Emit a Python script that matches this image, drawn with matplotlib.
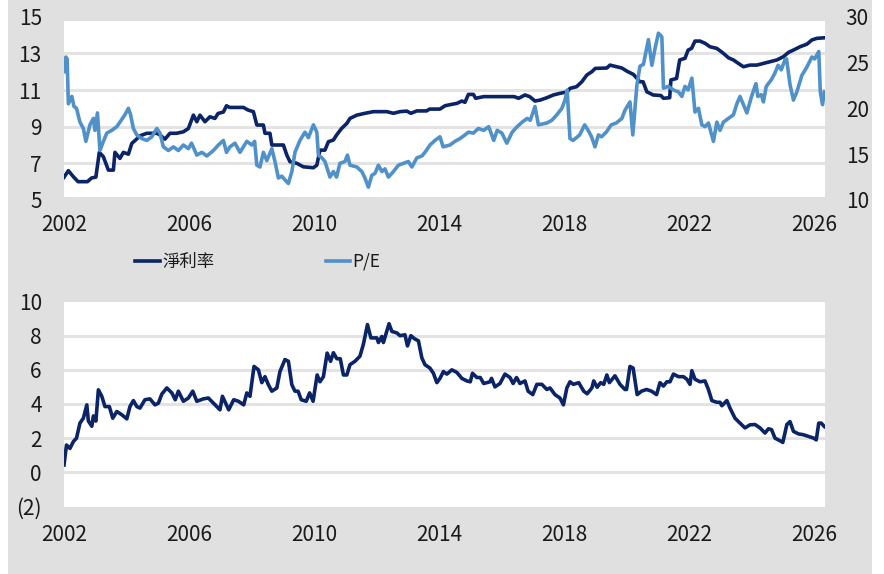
import matplotlib
matplotlib.use("Agg")
import matplotlib.pyplot as plt
from matplotlib.patches import Rectangle
from matplotlib.font_manager import FontProperties

plt.rcParams['font.family'] = ['Noto Sans CJK TC', 'DejaVu Sans']

# ---------------- data ----------------
margin_years = [2002.0, 2002.14, 2002.3, 2002.45, 2002.75, 2002.88, 2003.02, 2003.13, 2003.26, 2003.42,
                2003.58, 2003.63, 2003.79, 2003.9, 2004.06, 2004.17, 2004.29, 2004.43, 2004.65, 2004.97,
                2005.07, 2005.23, 2005.39, 2005.6, 2005.82, 2005.98, 2006.14, 2006.25, 2006.35, 2006.51,
                2006.67, 2006.83, 2006.93, 2007.1, 2007.2, 2007.3, 2007.74, 2007.9, 2008.06, 2008.17,
                2008.38, 2008.43, 2008.59, 2008.65, 2009.02, 2009.13, 2009.23, 2009.45, 2009.66, 2009.98,
                2010.09, 2010.19, 2010.35, 2010.46, 2010.62, 2010.72, 2010.88, 2011.05, 2011.15, 2011.37,
                2011.63, 2011.9, 2012.33, 2012.54, 2012.75, 2012.97, 2013.1, 2013.29, 2013.6, 2013.7,
                2014.03, 2014.19, 2014.35, 2014.57, 2014.73, 2014.83, 2014.94, 2015.1, 2015.17, 2015.43,
                2016.4, 2016.55, 2016.75, 2016.9, 2017.07, 2017.23, 2017.45, 2017.66, 2017.87, 2018.1,
                2018.19, 2018.4, 2018.57, 2018.73, 2018.89, 2019.0, 2019.37, 2019.47, 2019.69, 2019.85,
                2020.01, 2020.22, 2020.43, 2020.53, 2020.65, 2020.75, 2020.85, 2021.1, 2021.18, 2021.38,
                2021.42, 2021.6, 2021.7, 2021.87, 2021.97, 2022.08, 2022.19, 2022.35, 2022.51, 2022.67,
                2022.89, 2023.1, 2023.26, 2023.42, 2023.58, 2023.74, 2023.95, 2024.17, 2024.38, 2024.59,
                2024.81, 2025.02, 2025.18, 2025.34, 2025.55, 2025.77, 2025.93, 2026.09, 2026.33]
margin_values = [6.24, 6.6, 6.27, 6.0, 6.0, 6.2, 6.25, 7.6, 7.36, 6.63,
                 6.63, 7.6, 7.27, 7.6, 7.5, 8.09, 8.27, 8.5, 8.64, 8.64,
                 8.55, 8.32, 8.64, 8.64, 8.72, 8.9, 9.63, 9.27, 9.63, 9.27,
                 9.54, 9.45, 9.72, 9.8, 10.14, 10.05, 10.05, 9.9, 9.82, 9.09,
                 9.09, 8.64, 8.64, 8.0, 8.0, 7.45, 7.09, 7.0, 6.81, 6.76,
                 6.9, 7.72, 7.72, 8.18, 8.27, 8.54, 8.9, 9.18, 9.45, 9.63,
                 9.73, 9.82, 9.82, 9.73, 9.82, 9.85, 9.73, 9.86, 9.86, 9.96,
                 9.96, 10.14, 10.2, 10.27, 10.4, 10.33, 10.76, 10.76, 10.55, 10.64,
                 10.64, 10.55, 10.73, 10.64, 10.4, 10.45, 10.58, 10.73, 10.82, 10.9,
                 11.09, 11.18, 11.45, 11.82, 12.0, 12.18, 12.2, 12.36, 12.27, 12.2,
                 12.03, 11.85, 11.45, 11.45, 10.9, 10.82, 10.73, 10.7, 10.55, 10.58,
                 11.55, 11.63, 12.64, 12.73, 13.18, 13.27, 13.67, 13.67, 13.55, 13.36,
                 13.27, 13.0, 12.76, 12.64, 12.45, 12.27, 12.36, 12.36, 12.45, 12.54,
                 12.64, 12.82, 13.05, 13.18, 13.36, 13.5, 13.73, 13.82, 13.85]

pe_years = [2002.0, 2002.06, 2002.1, 2002.14, 2002.25, 2002.32, 2002.4, 2002.51, 2002.62, 2002.7,
            2002.83, 2002.94, 2002.99, 2003.07, 2003.15, 2003.26, 2003.37, 2003.53, 2003.69, 2003.79,
            2003.95, 2004.06, 2004.13, 2004.22, 2004.33, 2004.49, 2004.65, 2004.81, 2004.97, 2005.07,
            2005.18, 2005.34, 2005.5, 2005.66, 2005.82, 2005.98, 2006.08, 2006.25, 2006.41, 2006.57,
            2006.78, 2006.94, 2007.1, 2007.2, 2007.31, 2007.47, 2007.63, 2007.85, 2008.01, 2008.1,
            2008.17, 2008.27, 2008.38, 2008.49, 2008.65, 2008.75, 2008.86, 2008.97, 2009.07, 2009.18,
            2009.29, 2009.39, 2009.55, 2009.71, 2009.82, 2009.98, 2010.09, 2010.14, 2010.25, 2010.35,
            2010.51, 2010.62, 2010.72, 2010.83, 2010.99, 2011.07, 2011.15, 2011.37, 2011.53, 2011.63,
            2011.74, 2011.85, 2011.95, 2012.06, 2012.17, 2012.27, 2012.38, 2012.54, 2012.7, 2012.86,
            2013.02, 2013.13, 2013.29, 2013.45, 2013.55, 2013.71, 2013.87, 2014.03, 2014.13, 2014.35,
            2014.51, 2014.67, 2014.83, 2014.94, 2015.1, 2015.26, 2015.43, 2015.59, 2015.75, 2015.86,
            2016.01, 2016.17, 2016.34, 2016.5, 2016.66, 2016.82, 2016.92, 2017.07, 2017.18, 2017.45,
            2017.61, 2017.77, 2017.93, 2018.03, 2018.1, 2018.19, 2018.29, 2018.5, 2018.66, 2018.77,
            2018.88, 2018.99, 2019.1, 2019.2, 2019.35, 2019.51, 2019.67, 2019.85, 2019.95, 2020.11,
            2020.2, 2020.33, 2020.43, 2020.54, 2020.7, 2020.81, 2020.91, 2021.02, 2021.13, 2021.18,
            2021.34, 2021.5, 2021.66, 2021.77, 2021.87, 2021.97, 2022.09, 2022.19, 2022.3, 2022.41,
            2022.51, 2022.62, 2022.78, 2022.89, 2022.99, 2023.1, 2023.26, 2023.42, 2023.53, 2023.63,
            2023.74, 2023.85, 2024.0, 2024.14, 2024.2, 2024.31, 2024.38, 2024.47, 2024.63, 2024.74,
            2024.85, 2024.95, 2025.07, 2025.12, 2025.23, 2025.34, 2025.45, 2025.61, 2025.77, 2025.93,
            2026.02, 2026.15, 2026.2, 2026.27, 2026.33]
pe_values = [24.0, 25.6, 25.4, 20.5, 21.3, 20.2, 20.0, 18.5, 17.8, 16.4,
             18.2, 18.9, 17.6, 19.5, 15.4, 16.4, 17.3, 17.6, 18.0, 18.5,
             19.3, 20.0, 19.3, 17.8, 17.1, 16.7, 16.5, 16.9, 17.8, 17.3,
             15.8, 15.4, 15.8, 15.4, 16.0, 15.6, 16.2, 14.9, 15.2, 14.8,
             15.4, 16.0, 16.5, 15.2, 15.8, 16.2, 15.2, 16.4, 16.0, 16.4,
             13.8, 13.6, 15.2, 14.3, 15.6, 14.2, 12.4, 12.6, 12.2, 11.8,
             13.1, 15.2, 16.5, 17.4, 16.8, 18.2, 17.4, 14.9, 14.6, 14.2,
             12.5, 13.1, 12.5, 14.0, 14.2, 14.9, 13.8, 13.6, 13.1, 12.4,
             11.4, 12.7, 12.9, 13.8, 13.1, 13.4, 12.5, 13.1, 13.8, 14.0,
             14.2, 13.6, 14.6, 14.8, 15.2, 16.0, 16.5, 16.9, 15.8, 16.0,
             16.4, 16.7, 17.1, 17.4, 17.3, 17.8, 17.6, 18.0, 16.5, 17.6,
             17.3, 16.2, 17.4, 18.0, 18.5, 18.9, 18.7, 20.2, 18.2, 18.4,
             18.7, 19.3, 20.0, 20.9, 22.0, 16.7, 16.5, 17.1, 18.2, 17.6,
             16.9, 15.8, 17.1, 16.9, 17.4, 18.2, 18.4, 18.9, 19.8, 20.7,
             17.1, 22.5, 24.6, 24.8, 27.5, 24.7, 26.5, 28.2, 27.8, 22.2,
             22.4, 22.0, 21.8, 21.3, 22.4, 22.0, 23.3, 19.6, 20.0, 18.2,
             18.0, 18.4, 16.4, 18.5, 17.6, 18.5, 18.9, 19.3, 20.5, 21.3,
             20.4, 19.5, 21.3, 22.7, 21.3, 21.5, 20.7, 22.4, 23.1, 23.8,
             24.7, 24.2, 25.3, 25.4, 22.6, 20.9, 21.8, 23.6, 24.5, 25.6,
             25.4, 26.2, 21.8, 20.4, 21.8]

lower_years = [2002.0, 2002.08, 2002.19, 2002.3, 2002.4, 2002.51, 2002.62, 2002.73, 2002.78, 2002.89,
               2002.94, 2003.02, 2003.1, 2003.21, 2003.31, 2003.45, 2003.56, 2003.69, 2003.85, 2004.01,
               2004.11, 2004.22, 2004.33, 2004.43, 2004.59, 2004.75, 2004.91, 2005.02, 2005.13, 2005.29,
               2005.45, 2005.56, 2005.66, 2005.82, 2005.98, 2006.12, 2006.25, 2006.46, 2006.62, 2006.78,
               2006.99, 2007.07, 2007.27, 2007.43, 2007.58, 2007.75, 2007.85, 2007.95, 2008.08, 2008.22,
               2008.33, 2008.43, 2008.54, 2008.65, 2008.81, 2008.91, 2009.07, 2009.18, 2009.29, 2009.39,
               2009.49, 2009.59, 2009.75, 2009.86, 2009.97, 2010.1, 2010.19, 2010.3, 2010.42, 2010.53,
               2010.62, 2010.73, 2010.84, 2010.94, 2011.05, 2011.15, 2011.31, 2011.47, 2011.58, 2011.71,
               2011.82, 2012.01, 2012.06, 2012.17, 2012.22, 2012.4, 2012.49, 2012.65, 2012.75, 2012.91,
               2012.99, 2013.1, 2013.23, 2013.34, 2013.45, 2013.55, 2013.71, 2013.82, 2013.93, 2014.03,
               2014.14, 2014.25, 2014.41, 2014.57, 2014.73, 2014.89, 2015.0, 2015.07, 2015.21, 2015.32,
               2015.43, 2015.63, 2015.68, 2015.79, 2015.95, 2016.11, 2016.27, 2016.37, 2016.48, 2016.59,
               2016.75, 2016.85, 2017.0, 2017.13, 2017.29, 2017.45, 2017.55, 2017.71, 2017.87, 2017.98,
               2018.09, 2018.19, 2018.3, 2018.47, 2018.63, 2018.74, 2018.89, 2018.95, 2019.06, 2019.17,
               2019.27, 2019.37, 2019.45, 2019.63, 2019.79, 2019.95, 2020.0, 2020.11, 2020.21, 2020.34,
               2020.48, 2020.64, 2020.8, 2020.96, 2021.07, 2021.18, 2021.29, 2021.39, 2021.5, 2021.66,
               2021.82, 2021.93, 2022.03, 2022.09, 2022.19, 2022.35, 2022.51, 2022.62, 2022.73, 2022.89,
               2022.99, 2023.05, 2023.21, 2023.31, 2023.47, 2023.63, 2023.79, 2023.95, 2024.11, 2024.27,
               2024.43, 2024.54, 2024.64, 2024.75, 2024.91, 2025.0, 2025.13, 2025.23, 2025.34, 2025.5,
               2025.66, 2025.83, 2025.99, 2026.07, 2026.15, 2026.23, 2026.33]
lower_values = [0.43, 1.6, 1.4, 1.8, 2.0, 2.88, 3.17, 3.95, 3.0, 2.7,
                3.3, 3.0, 4.83, 4.45, 3.85, 3.85, 3.17, 3.56, 3.37, 3.13,
                3.85, 4.2, 3.85, 3.76, 4.25, 4.3, 3.95, 4.05, 4.58, 4.94,
                4.65, 4.25, 4.75, 4.16, 4.35, 4.75, 4.16, 4.3, 4.35, 4.05,
                3.66, 4.45, 3.66, 4.25, 4.16, 3.95, 4.65, 4.45, 6.2, 6.0,
                5.25, 5.6, 5.13, 4.75, 4.94, 5.9, 6.6, 6.5, 5.13, 4.75,
                4.75, 4.25, 4.16, 4.65, 4.16, 5.7, 5.3, 5.6, 6.98, 6.5,
                7.0, 6.65, 6.65, 5.7, 5.7, 6.3, 6.5, 6.8, 7.5, 8.65,
                7.87, 7.87, 7.6, 7.95, 7.6, 8.7, 8.25, 8.16, 8.0, 8.05,
                7.4, 8.0, 7.8, 7.7, 6.7, 6.3, 6.1, 5.8, 5.25, 5.5,
                5.9, 5.75, 6.0, 5.85, 5.5, 5.35, 5.3, 5.8, 5.55, 5.55,
                5.2, 5.3, 5.5, 5.0, 5.2, 5.75, 5.55, 5.2, 5.55, 5.2,
                5.35, 4.75, 4.55, 5.15, 5.15, 4.85, 4.94, 4.55, 4.35, 3.95,
                4.94, 5.3, 5.15, 5.25, 4.75, 4.6, 4.94, 5.35, 4.98, 5.25,
                5.15, 5.7, 5.25, 5.65, 5.15, 4.85, 4.85, 6.2, 6.1, 4.55,
                4.75, 4.85, 4.75, 4.55, 5.25, 5.05, 5.3, 5.3, 5.75, 5.6,
                5.6, 5.45, 5.15, 5.95, 5.45, 5.3, 5.35, 4.85, 4.2, 4.1,
                4.1, 3.9, 4.2, 3.76, 3.17, 2.88, 2.6, 2.78, 2.8, 2.6,
                2.3, 2.55, 2.5, 2.0, 1.85, 1.75, 2.8, 2.97, 2.4, 2.25,
                2.2, 2.1, 2.0, 1.9, 2.88, 2.88, 2.68]

year_ticks = [2002, 2006, 2010, 2014, 2018, 2022, 2026]
left_ticks = [5, 7, 9, 11, 13, 15]
right_ticks = [10, 15, 20, 25, 30]
lower_ticks = [-2, 0, 2, 4, 6, 8, 10]
lower_labels = ['(2)', '0', '2', '4', '6', '8', '10']
legend_labels = ['淨利率', 'P/E']

# ---------------- style ----------------
BG = '#e0e0e0'
GRID = '#e3e3e3'
DARK = '#0b2467'
LIGHT = '#5191c9'
TXT = '#1a1a1a'
W, H = 884, 574
FS = 15

fig = plt.figure(figsize=(W / 100, H / 100), dpi=100)
fig.patch.set_facecolor('white')
fig.add_artist(Rectangle((8 / W, 0), (872 - 8) / W, 1, transform=fig.transFigure,
                         facecolor=BG, edgecolor='none', zorder=-10))

XMIN, XMAX = 2002.0, 2026.35


def style_axis(ax):
    for s in ax.spines.values():
        s.set_visible(False)
    ax.tick_params(length=0, labelsize=FS, labelcolor=TXT)


# top chart
ax1 = fig.add_axes([64 / W, 1 - 200 / H, (825 - 64) / W, (200 - 16.7) / H])
ax1.set_facecolor(BG)
ax1.add_patch(Rectangle((0, 3 / 183.3), 1, (197 - 21) / 183.3, transform=ax1.transAxes,
                        facecolor='white', edgecolor='none', zorder=0))
ax1.set_axisbelow(True)
ax1.grid(axis='y', color=GRID, lw=2.2)
ax1.set_xlim(XMIN, XMAX)
ax1.set_ylim(5, 15)
ax1.set_yticks(left_ticks)
ax1.set_xticks(year_ticks)
style_axis(ax1)
ax1.tick_params(axis='y', pad=16)
ax1.tick_params(axis='x', pad=10)
gls = ax1.get_ygridlines()
gls[0].set_visible(False)
gls[-1].set_visible(False)
l1, = ax1.plot(margin_years, margin_values, color=DARK, lw=2.6, solid_joinstyle='round', zorder=3)

ax2 = ax1.twinx()
ax2.set_ylim(10, 30)
ax2.set_yticks(right_ticks)
style_axis(ax2)
ax2.tick_params(axis='y', pad=15)
l2, = ax2.plot(pe_years, pe_values, color=LIGHT, lw=2.6, solid_joinstyle='round', zorder=3)

# legend
fig.legend(handles=[l1, l2], labels=legend_labels, loc='center',
           bbox_to_anchor=(258 / W, 1 - 262 / H), ncol=2, frameon=False,
           handlelength=1.4, handletextpad=0.15, columnspacing=6.4,
           prop=FontProperties(family=['Noto Sans CJK TC', 'DejaVu Sans'], size=12.5),
           labelcolor=TXT)

# bottom chart
ax3 = fig.add_axes([64 / W, 1 - 506.5 / H, (825 - 64) / W, (506.5 - 301.5) / H])
ax3.set_facecolor('white')
ax3.set_axisbelow(True)
ax3.grid(axis='y', color=GRID, lw=2.2)
ax3.set_xlim(XMIN, XMAX)
ax3.set_ylim(-2, 10)
ax3.set_yticks(lower_ticks)
ax3.set_yticklabels(lower_labels)
ax3.set_xticks(year_ticks)
style_axis(ax3)
ax3.tick_params(axis='y', pad=16)
ax3.tick_params(axis='x', pad=12.5)
gls = ax3.get_ygridlines()
gls[0].set_visible(False)
gls[-1].set_visible(False)
ax3.plot(lower_years, lower_values, color=DARK, lw=2.6, solid_joinstyle='round', zorder=3)

fig.savefig('out.png', dpi=100, facecolor=fig.get_facecolor())
